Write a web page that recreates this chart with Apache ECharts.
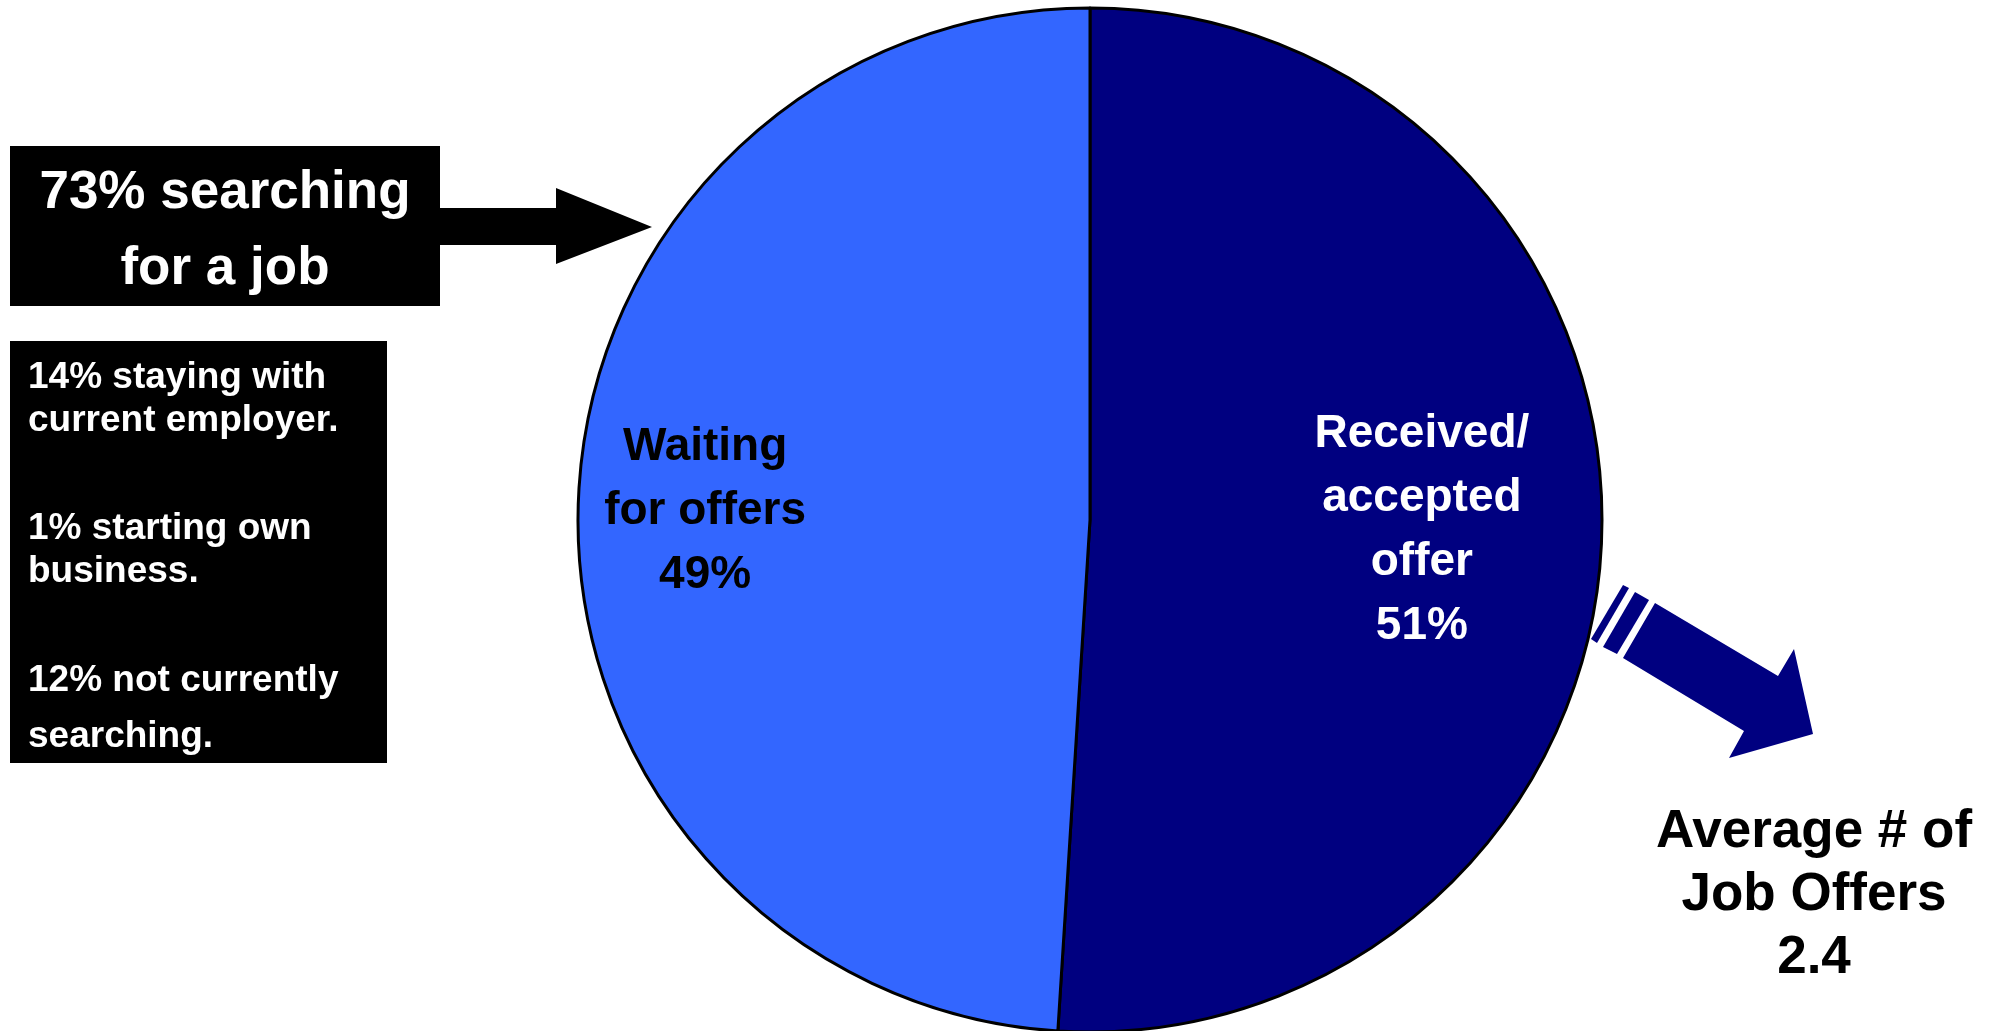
<!DOCTYPE html>
<html>
<head>
<meta charset="utf-8">
<script src="https://cdn.jsdelivr.net/npm/echarts@6/dist/echarts.min.js"></script>
<style>
  html, body { margin: 0; padding: 0; background: #fff; }
  #chart { width: 1994px; height: 1031px; }
</style>
</head>
<body>
<div id="chart"></div>
<script>
'use strict';

// slices, clockwise from 12 o'clock
var sliceNames = ['Received/\naccepted\noffer', 'Waiting\nfor offers'];
var sliceValues = [51, 49];

// side notes
var searchingPct = 73;
var otherNotes = [
  ['14% staying with', 'current employer.'],
  ['1% starting own', 'business.'],
  ['12% not currently', 'searching.']
];
var avgOffers = 2.4;

var FONT = '"Liberation Sans", Arial, sans-serif';

var chart = echarts.init(document.getElementById('chart'), null, {renderer: 'canvas'});

function noteTexts(){
  var out = [];
  var tops = [378, 529, 681];
  var gaps = [43, 43, 56];
  otherNotes.forEach(function(lines, i){
    lines.forEach(function(line, j){
      out.push({
        type: 'text',
        style: {
          text: line,
          x: 28,
          y: tops[i] + j * gaps[i],
          fill: '#fff',
          font: 'bold 37px ' + FONT,
          align: 'left',
          verticalAlign: 'middle'
        }
      });
    });
  });
  return out;
}

var option = {
  backgroundColor: '#fff',
  animation: false,
  series: [
    {
      name: 'offers',
      type: 'pie',
      center: [1090, 520],
      radius: [0, 512],
      startAngle: 90,
      clockwise: true,
      avoidLabelOverlap: false,
      itemStyle: {
        borderColor: '#000',
        borderWidth: 3
      },
      label: {
        show: true,
        position: 'inside',
        fontFamily: FONT,
        fontWeight: 'bold',
        fontSize: 46,
        lineHeight: 64,
        align: 'center',
        formatter: function(p){
          return p.name + '\n' + p.value + '%';
        }
      },
      labelLine: {show: false},
      data: [
        {
          value: sliceValues[0], name: sliceNames[0],
          itemStyle: {color: '#000080'},
          label: {color: '#fff', offset: [73, 2]}
        },
        {
          value: sliceValues[1], name: sliceNames[1],
          itemStyle: {color: '#3366ff'},
          label: {color: '#000', offset: [-126, -1]}
        }
      ]
    }
  ],
  graphic: [
    // headline box
    {
      type: 'rect',
      shape: {x: 10, y: 146, width: 430, height: 160},
      style: {fill: '#000'}
    },
    {
      type: 'text',
      style: {
        text: searchingPct + '% searching\nfor a job',
        x: 225, y: 231,
        fill: '#fff',
        font: 'bold 53px ' + FONT,
        lineHeight: 76,
        align: 'center',
        verticalAlign: 'middle'
      }
    },
    // black arrow into the pie
    {
      type: 'polygon',
      shape: {points: [[440, 208], [556, 208], [556, 188], [652, 227], [556, 264], [556, 245], [440, 245]]},
      style: {fill: '#000'}
    },
    // notes box
    {
      type: 'rect',
      shape: {x: 10, y: 341, width: 377, height: 422},
      style: {fill: '#000'}
    }
  ].concat(noteTexts()).concat([
    // navy arrow out of the received slice
    {
      type: 'polygon',
      shape: {points: [[1623, 585], [1629, 588], [1597, 643], [1591, 639]]},
      style: {fill: '#000080'}
    },
    {
      type: 'polygon',
      shape: {points: [[1635, 592], [1649, 600], [1617, 654], [1603, 647]]},
      style: {fill: '#000080'}
    },
    {
      type: 'polygon',
      shape: {points: [[1655, 603], [1778, 676], [1794, 649], [1813, 734], [1729, 758], [1744, 731], [1623, 658]]},
      style: {fill: '#000080'}
    },
    {
      type: 'text',
      style: {
        text: 'Average # of\nJob Offers\n' + avgOffers,
        x: 1814, y: 895,
        fill: '#000',
        font: 'bold 53px ' + FONT,
        lineHeight: 63,
        align: 'center',
        verticalAlign: 'middle'
      }
    }
  ])
};

chart.setOption(option);
</script>
</body>
</html>
